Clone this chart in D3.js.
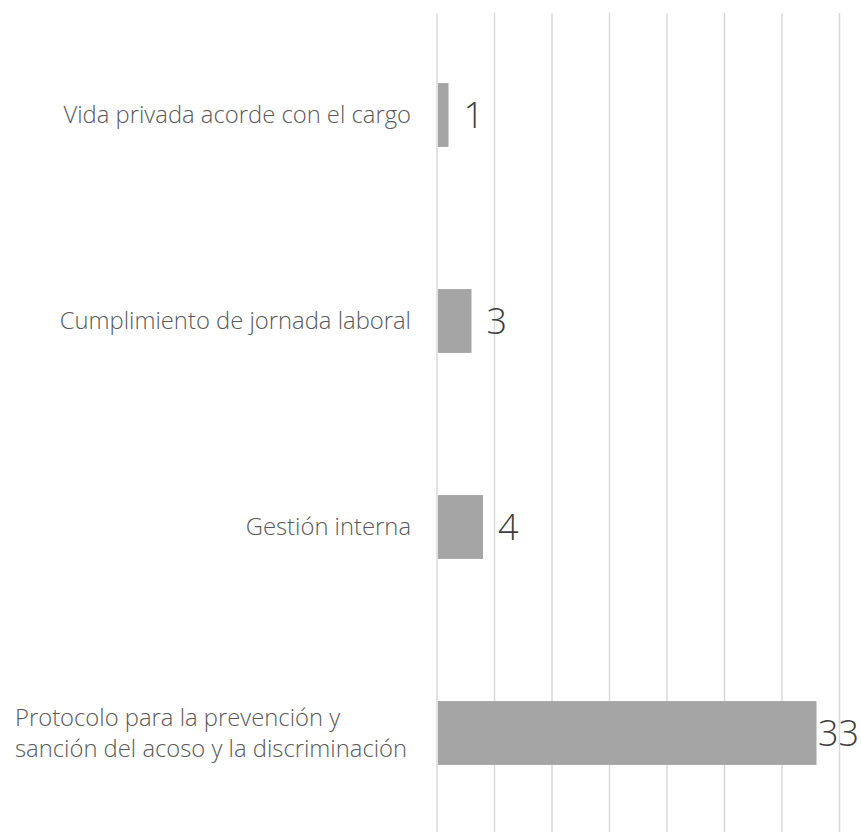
<!DOCTYPE html>
<html>
<head>
<meta charset="utf-8">
<script src="https://cdn.jsdelivr.net/npm/d3@7"></script>
<style>
  body { margin: 0; background: #fff; }
</style>
</head>
<body>
<div id="chart"></div>
<script>
// Data
const categories = [
    'Vida privada acorde con el cargo',
    'Cumplimiento de jornada laboral',
    'Gestión interna',
    'Protocolo para la prevención y|sanción del acoso y la discriminación'
];
const values = [1, 3, 4, 33];
const xTicks = [0, 5, 10, 15, 20, 25, 30, 35];

const width = 861, height = 832;

const svg = d3.select('#chart')
    .append('svg')
    .attr('width', width)
    .attr('height', height);

// Scales
const x = d3.scaleLinear()
    .domain([0, 35])
    .range([437, 839.5]);

const y = d3.scaleBand()
    .domain(categories)
    .range([12, 836])
    .paddingInner(0.69)
    .paddingOuter(0.345);

// Gridlines
svg.append('g')
    .selectAll('line')
    .data(xTicks)
    .join('line')
    .attr('x1', d => x(d))
    .attr('x2', d => x(d))
    .attr('y1', 13)
    .attr('y2', 832)
    .attr('stroke', '#d9d9d9')
    .attr('stroke-width', 1.5);

// Bars
svg.append('g')
    .selectAll('rect')
    .data(values)
    .join('rect')
    .attr('x', x(0) + 1)
    .attr('y', (d, i) => y(categories[i]))
    .attr('width', d => x(d) - x(0) - 1)
    .attr('height', y.bandwidth())
    .attr('fill', '#a5a5a5');

// Value labels
svg.append('g')
    .selectAll('text')
    .data(values)
    .join('text')
    .attr('x', d => Math.min(x(d) + 15, 818))
    .attr('y', (d, i) => y(categories[i]) + y.bandwidth() / 2)
    .attr('dy', '0.36em')
    .attr('font-family', '"Open Sans", sans-serif')
    .attr('font-weight', 300)
    .attr('font-size', 36)
    .attr('fill', '#404040')
    .text(d => d);

// Category labels
const labels = svg.append('g')
    .selectAll('text')
    .data(categories)
    .join('text')
    .attr('text-anchor', 'end')
    .attr('font-family', '"Open Sans", sans-serif')
    .attr('font-weight', 300)
    .attr('font-size', 23.8)
    .attr('fill', '#595959')
    .attr('transform', d => `translate(411,${y(d) + y.bandwidth() / 2})`);

labels.each(function (d) {
    const lines = d.split('|');
    const lh = 31;
    d3.select(this).selectAll('tspan')
        .data(lines)
        .join('tspan')
        .attr('x', 0)
        .attr('y', (l, i) => (i - (lines.length - 1) / 2) * lh)
        .attr('dy', '0.35em')
        .attr('text-anchor', lines.length > 1 ? 'start' : 'end')
        .attr('dx', lines.length > 1 ? -396 : 0)
        .text(l => l);
});
</script>
</body>
</html>
